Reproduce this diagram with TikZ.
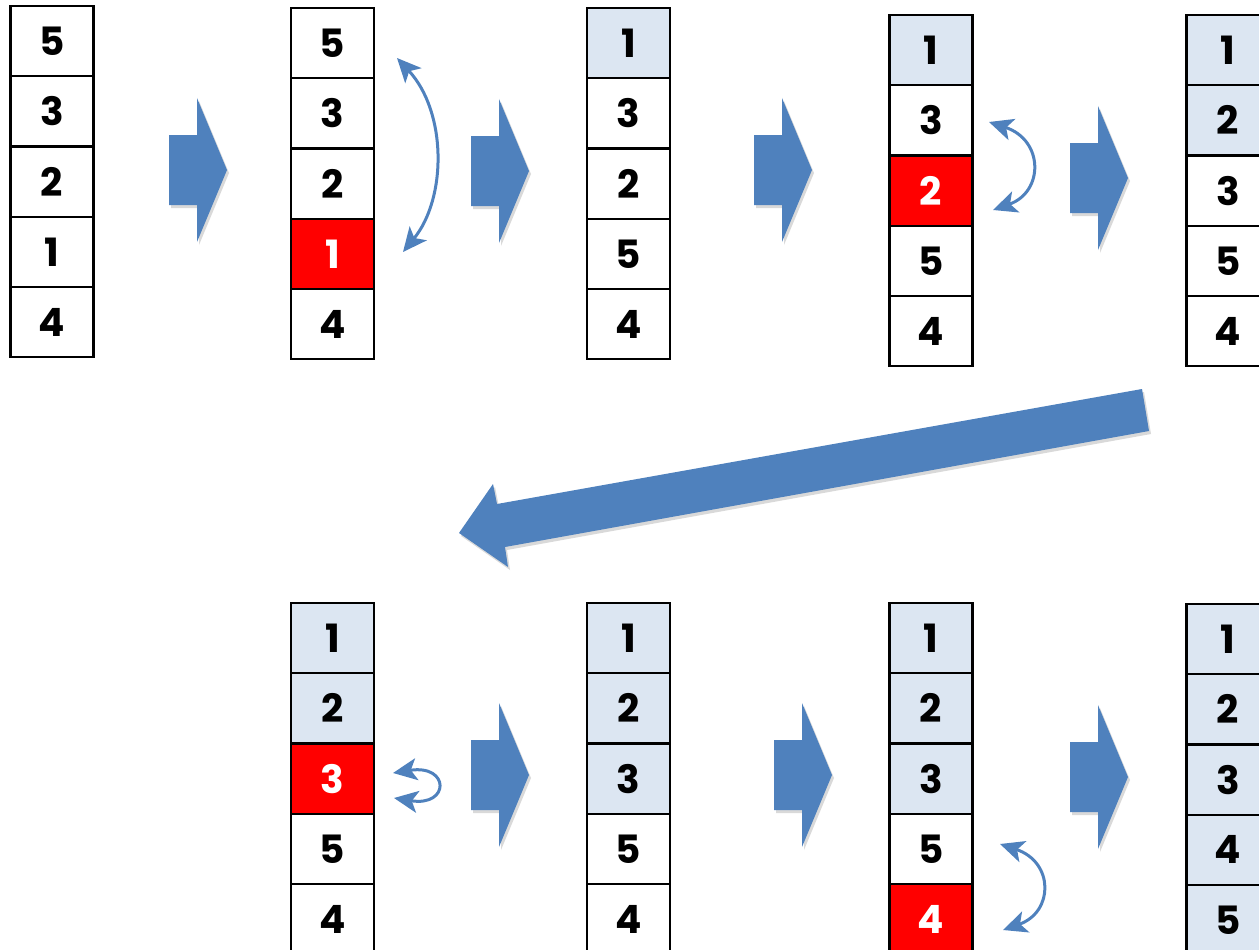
\documentclass[tikz,border=0pt]{standalone}
\usepackage{fontspec}
\newfontfamily\digitfont{Poppins}
\usetikzlibrary{arrows.meta,shadows}
\definecolor{arrowblue}{HTML}{4F81BD}
\definecolor{lightcell}{HTML}{DCE6F2}
\definecolor{redcell}{HTML}{FF0000}
\tikzset{
  cell/.style={draw=black, line width=2.2pt, minimum width=83pt, minimum height=70.3pt,
    inner sep=0pt, font=\digitfont\bfseries\fontsize{39}{39}\selectfont, text=black},
  w/.style={fill=white},
  lt/.style={fill=lightcell},
  rd/.style={fill=redcell, text=white},
  blockarrow/.style={fill=arrowblue, draw=none,
    drop shadow={opacity=0.15, shadow xshift=2pt, shadow yshift=-3pt, fill=black}},
  swaparrow/.style={draw=arrowblue, line width=3pt,
    arrows={Stealth[length=24pt,width=22pt,inset=6pt,fill=arrowblue]-Stealth[length=24pt,width=22pt,inset=6pt,fill=arrowblue]}},
}
\newcommand\mkcol[4]{%
  \foreach \v/\s [count=\i] in {#4} {
    \node[cell,\s] (#1-\i) at ({#2+41.5},{#3+36+70.3*(\i-1)}) {\v};
  }}
\newcommand\rblock[2]{%
  \path[blockarrow] (#1,#2) ++(0,-35) -- ++(28,0) -- ++(0,-37) -- ++(30,72)
    -- ++(-30,72) -- ++(0,-37) -- ++(-28,0) -- cycle;}
\begin{document}
\begin{tikzpicture}[x=1pt,y=-1pt]
\useasboundingbox (0,0) rectangle (1259,950);
\clip (0,0) rectangle (1259,950);
% columns
\mkcol{a}{10.5}{5}{5/w,3/w,2/w,1/w,4/w}
\mkcol{b}{291}{7}{5/w,3/w,2/w,1/rd,4/w}
\mkcol{c}{587}{7}{1/lt,3/w,2/w,5/w,4/w}
\mkcol{d}{889.5}{14}{1/lt,3/w,2/rd,5/w,4/w}
\mkcol{e}{1186.5}{14}{1/lt,2/lt,3/w,5/w,4/w}
\mkcol{f}{291}{602}{1/lt,2/lt,3/rd,5/w,4/w}
\mkcol{g}{587}{602}{1/lt,2/lt,3/lt,5/w,4/w}
\mkcol{h}{889.5}{602}{1/lt,2/lt,3/lt,5/w,4/rd}
\mkcol{k}{1186.5}{603}{1/lt,2/lt,3/lt,4/lt,5/lt}
% block arrows
\rblock{169}{170}
\rblock{471}{171}
\rblock{754}{170}
\rblock{1070}{178}
\rblock{471}{775}
\rblock{774}{775}
\rblock{1070}{777}
% big diagonal arrow
\path[blockarrow] (1142,389) -- (1149,431) -- (505,547) -- (508,567) -- (459,533)
  -- (493,484) -- (497,504) -- cycle;
% swap arrows
\coordinate (s1a) at (397,58);  \coordinate (s1b) at (403,252);
\coordinate (s2a) at (989,122); \coordinate (s2b) at (993,210);
\coordinate (s3a) at (393,773); \coordinate (s3b) at (394,798);
\coordinate (s4a) at (1000,844); \coordinate (s4b) at (1003,930);
\draw[swaparrow] (s1a) .. controls (447,112) and (447,198) .. (s1b);
\draw[swaparrow] (s2a) .. controls (1044,140) and (1044,192) .. (s2b);
\draw[swaparrow] (s3a) .. controls (450,764) and (450,807) .. (s3b);
\draw[swaparrow] (s4a) .. controls (1054,862) and (1054,912) .. (s4b);
\end{tikzpicture}
\end{document}
